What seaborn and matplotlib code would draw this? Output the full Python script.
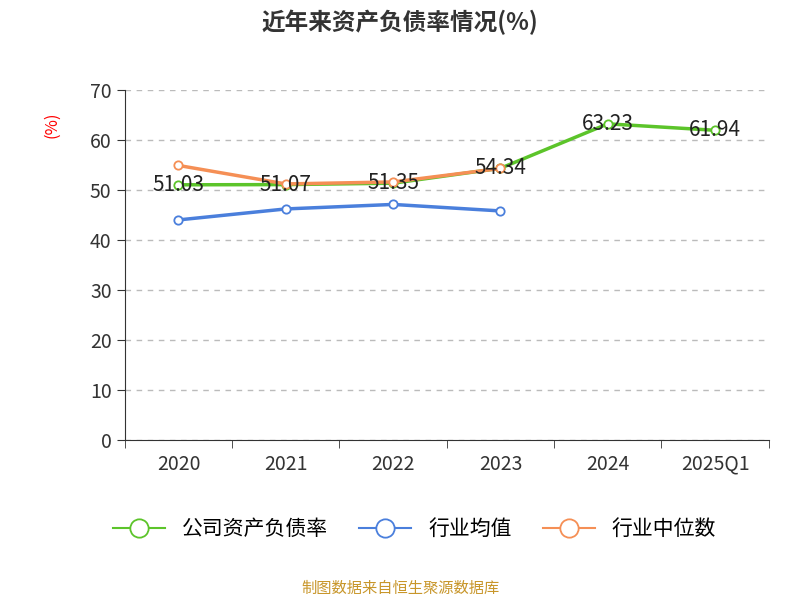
import matplotlib
matplotlib.use("Agg")
import matplotlib.pyplot as plt
from matplotlib import font_manager as fm
import seaborn as sns
import pandas as pd

fam = None
for f in fm.findSystemFonts():
    if "CJK" in f and ("SC" in f or "ttc" in f.lower()):
        try:
            fm.fontManager.addfont(f)
        except Exception:
            pass
names = sorted({f.name for f in fm.fontManager.ttflist if "CJK" in f.name})
for pref in ["Noto Sans CJK SC", "Noto Sans CJK JP"]:
    if pref in names:
        fam = pref
        break
if fam is None and names:
    fam = names[0]
plt.rcParams["font.family"] = [fam, "DejaVu Sans"] if fam else ["DejaVu Sans"]

years = ["2020", "2021", "2022", "2023", "2024", "2025Q1"]
company = [51.03, 51.07, 51.35, 54.34, 63.23, 61.94]
ind_mean = [44.0, 46.2, 47.1, 45.8]
ind_median = [54.9, 51.2, 51.6, 54.3]

fig = plt.figure(figsize=(8, 6), dpi=100)
ax = fig.add_axes([0.156, 0.267, 0.805, 0.583])

series = [("公司资产负债率", company, "#5cc42a", 3),
          ("行业均值", ind_mean, "#4a7fdc", 3),
          ("行业中位数", ind_median, "#f58f55", 4)]
for name, vals, c, z in series:
    df = pd.DataFrame({"x": list(range(len(vals))), "y": vals})
    sns.lineplot(data=df, x="x", y="y", ax=ax, color=c, lw=2.5, marker="o",
                 markersize=6, markerfacecolor="white", markeredgecolor=c,
                 markeredgewidth=1.3, label=name, zorder=z)

for i, v in enumerate(company):
    ax.text(i, v, f"{v:.2f}", ha="center", va="center", fontsize=15, color="#222", zorder=5)

ax.set_xlim(-0.5, 5.5)
ax.set_ylim(0, 70)
ax.set_yticks(range(0, 71, 10))
ax.set_xticks(range(6))
ax.set_xticklabels(years)
ax.set_xticks([i + 0.5 for i in range(-1, 6)], minor=True)
ax.tick_params(axis="x", which="major", length=0, labelsize=14, colors="#333", pad=10)
ax.tick_params(axis="x", which="minor", length=6, color="#333")
ax.tick_params(axis="y", labelsize=14, colors="#333", length=6, color="#333")
ax.grid(axis="y", ls=(0, (4, 4)), color="#bbbbbb", lw=1)
ax.set_axisbelow(True)
for s in ["top", "right"]:
    ax.spines[s].set_visible(False)
ax.spines["left"].set_color("#333")
ax.spines["bottom"].set_color("#333")
ax.set_xlabel("")
ax.set_ylabel("(%)", color="red", fontsize=12, labelpad=2)
ax.yaxis.set_label_coords(-0.1, 0.9)

leg = ax.legend(loc="upper center", bbox_to_anchor=(0.45, -0.17), ncol=3, frameon=False,
                fontsize=15, handlelength=2.5, columnspacing=1.5, markerscale=2.2)
for h in leg.legend_handles:
    h.set_linewidth(1.5)

fig.text(0.5, 0.963, "近年来资产负债率情况(%)", ha="center", va="center",
         fontsize=17, fontweight="bold", color="#333")
fig.text(0.5, 0.02, "制图数据来自恒生聚源数据库", ha="center", va="center",
         fontsize=11, color="#c8962a")

fig.savefig("out.png", dpi=100)
